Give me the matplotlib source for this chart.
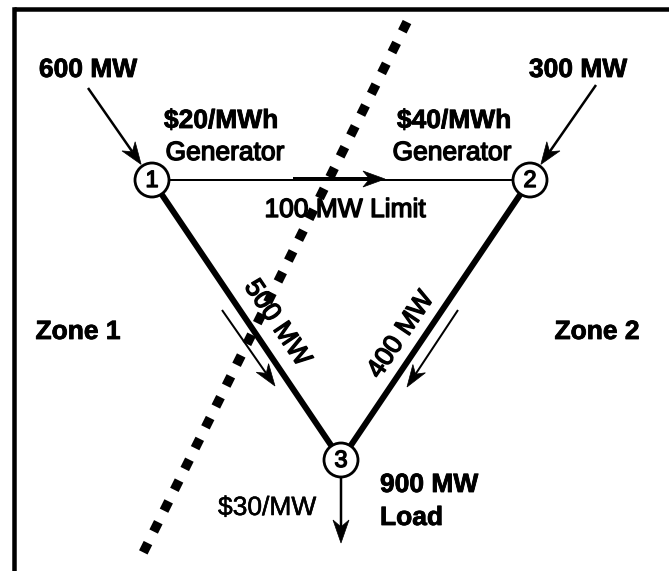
"""
Three-bus transmission network with a congested 1-2 line,
drawn in pixel coordinates (y grows downward).
"""
import matplotlib
matplotlib.use('Agg')

import numpy as np
import matplotlib.pyplot as plt
import matplotlib.patheffects as pe
from matplotlib.patches import Circle, Polygon

W, H = 669, 571
PX = 0.72  # px -> pt at dpi 100
FS = 19

# ---- network data ----
BUS_NAMES = ['1', '2', '3']
BUS_X = [152, 530, 341]
BUS_Y = [180, 180, 460]

# lines: (from bus, to bus)
LINE_FROM = [0, 0, 1]
LINE_TO = [1, 2, 2]

# generator injections (arrow start, ends at bus)
GEN_MW = ['600 MW', '300 MW']
GEN_PRICE = ['\\$20/MWh', '\\$40/MWh']
GEN_BUS = [0, 1]
GEN_START_X = [88, 596]
GEN_START_Y = [88, 85]

# flows on the lines
FLOW_LABELS = ['500 MW', '400 MW']
FLOW_START_X = [222, 458]
FLOW_START_Y = [310, 310]
FLOW_END_X = [275, 407]
FLOW_END_Y = [386, 387]
LIMIT_LABEL = '100 MW Limit'
LIMIT_ARROW_X = [293, 385]

# load at bus 3
LOAD_LABEL = ['900 MW', 'Load']
LOAD_PRICE = '\\$30/MW'
LOAD_END_Y = 543

ZONES = ['Zone 1', 'Zone 2']

# zone split (dotted cut)
CUT_X = [407, 143]
CUT_Y = [22, 553]

HEAVY = [pe.withStroke(linewidth=0.6, foreground='k')]
MEDIUM = [pe.withStroke(linewidth=1.0, foreground='k')]
LIGHT = [pe.withStroke(linewidth=0.4, foreground='k')]


def arrow(ax, x0, y0, x1, y1, lw, hl=20, hw=16, notch=0.3, z=3):
    d = np.array([x1 - x0, y1 - y0], dtype=float)
    u = d / np.hypot(*d)
    n = np.array([-u[1], u[0]])
    tip = np.array([x1, y1], dtype=float)
    base = tip - u * hl
    nb = tip - u * hl * (1 - notch)
    ax.plot([x0, nb[0]], [y0, nb[1]], color='k', lw=lw * PX,
            solid_capstyle='butt', zorder=z)
    ax.add_patch(Polygon([tip, base + n * hw / 2, nb, base - n * hw / 2],
                         closed=True, fc='k', ec='k', lw=0.5, zorder=z))


def bold(ax, x, y, s, **kw):
    ax.text(x, y, s, fontsize=FS, fontweight='bold', path_effects=HEAVY, **kw)


def medium(ax, x, y, s, **kw):
    ax.text(x, y, s, fontsize=FS, path_effects=MEDIUM, **kw)


plt.rcParams['font.family'] = ['Liberation Sans', 'DejaVu Sans']
fig = plt.figure(figsize=(W / 100, H / 100), dpi=100)
ax = fig.add_axes([0, 0, 1, 1])
ax.set_xlim(0, W)
ax.set_ylim(H, 0)
ax.axis('off')

# frame
ax.plot([14, W], [8.5, 8.5], color='k', lw=4.5 * PX, solid_capstyle='butt')
ax.plot([14, 14], [8.5, H], color='k', lw=4.5 * PX, solid_capstyle='projecting')

# transmission lines
for i, (a, b) in enumerate(zip(LINE_FROM, LINE_TO)):
    lw = 2 if i == 0 else 6
    ax.plot([BUS_X[a], BUS_X[b]], [BUS_Y[a], BUS_Y[b]], color='k',
            lw=lw * PX, zorder=2)

# congested flow arrow on 1-2
arrow(ax, LIMIT_ARROW_X[0], BUS_Y[0] - 1, LIMIT_ARROW_X[1], BUS_Y[0] - 1,
      lw=4, hl=22, hw=16)

# dotted zone cut
ax.plot(CUT_X, CUT_Y, color='k', lw=9.5 * PX, linestyle=(0, (1.1, 1.35)),
        dash_capstyle='butt', zorder=4)

# buses
for name, x, y in zip(BUS_NAMES, BUS_X, BUS_Y):
    ax.add_patch(Circle((x, y), 17, fc='white', ec='k', lw=2.8 * PX, zorder=5))
    ax.text(x, y + 1, name, ha='center', va='center', fontsize=17,
            path_effects=MEDIUM, zorder=6)

# generator injections
for i, b in enumerate(GEN_BUS):
    sx, sy = GEN_START_X[i], GEN_START_Y[i]
    cx, cy = BUS_X[b], BUS_Y[b]
    d = np.array([sx - cx, sy - cy], dtype=float)
    d /= np.hypot(*d)
    arrow(ax, sx, sy, cx + d[0] * 19, cy + d[1] * 19, lw=2.5, hl=22, hw=16)

bold(ax, 88, 77, GEN_MW[0], ha='center', va='baseline')
bold(ax, 578, 77, GEN_MW[1], ha='center', va='baseline')
bold(ax, 221, 128, GEN_PRICE[0], ha='center', va='baseline')
medium(ax, 225, 160, 'Generator', ha='center', va='baseline')
bold(ax, 454, 128, GEN_PRICE[1], ha='center', va='baseline')
medium(ax, 452, 160, 'Generator', ha='center', va='baseline')
medium(ax, 345, 217, LIMIT_LABEL, ha='center', va='baseline')

# line flow arrows and labels
for i in range(2):
    arrow(ax, FLOW_START_X[i], FLOW_START_Y[i], FLOW_END_X[i], FLOW_END_Y[i],
          lw=2, hl=22, hw=15)
medium(ax, 277, 323, FLOW_LABELS[0], ha='center', va='center',
       rotation=-56, rotation_mode='anchor', zorder=5)
medium(ax, 401, 335, FLOW_LABELS[1], ha='center', va='center',
       rotation=56, rotation_mode='anchor', zorder=5)

# zones
bold(ax, 78, 339, ZONES[0], ha='center', va='baseline')
bold(ax, 597, 339, ZONES[1], ha='center', va='baseline')

# load
arrow(ax, BUS_X[2], BUS_Y[2] + 18, BUS_X[2], LOAD_END_Y, lw=2.5, hl=23, hw=16)
bold(ax, 380, 492, LOAD_LABEL[0], ha='left', va='baseline')
bold(ax, 380, 525, LOAD_LABEL[1], ha='left', va='baseline')
ax.text(267, 515, LOAD_PRICE, ha='center', va='baseline', fontsize=FS,
        path_effects=LIGHT)

fig.savefig('out.png', dpi=100)
